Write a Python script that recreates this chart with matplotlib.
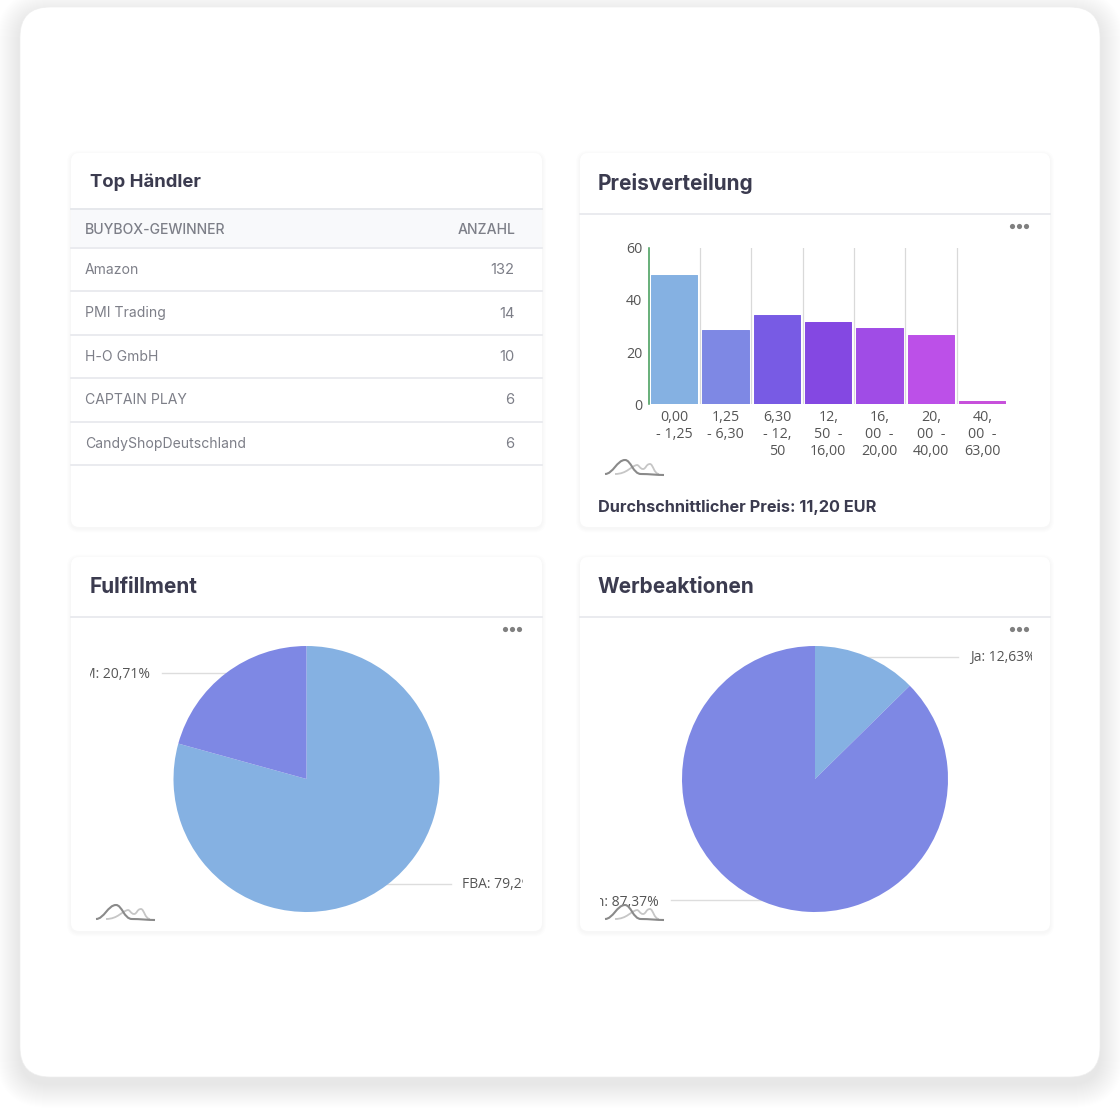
import matplotlib
matplotlib.use("Agg")
import matplotlib.pyplot as plt
from matplotlib.patches import FancyBboxPatch, Rectangle
from matplotlib.path import Path
from matplotlib.patches import PathPatch

W, H = 1120, 1112

# table data
table_head = ["BUYBOX-GEWINNER", "ANZAHL"]
sellers = ["Amazon", "PMI Trading", "H-O GmbH", "CAPTAIN PLAY", "CandyShopDeutschland"]
seller_counts = [132, 14, 10, 6, 6]

# price histogram
price_labels = ["0,00\n- 1,25", "1,25\n- 6,30", "6,30\n- 12,\n50", "12,\n50  -\n16,00",
                "16,\n00  -\n20,00", "20,\n00  -\n40,00", "40,\n00  -\n63,00"]
price_values = [49.6, 28.5, 34.4, 31.5, 29.4, 26.5, 1.1]
price_colors = ["#85b1e2", "#7e88e4", "#785be4", "#8448e2", "#a04ce6", "#bc50e8", "#c750db"]

# pies
fulfillment_values = [79.29, 20.71]
promo_values = [12.63, 87.37]
pie_colors = ["#85b1e2", "#7e88e4"]

TITLE = "#3b3b4f"
GREY = "#7d7f88"
LINE = "#e6e8ec"
LABEL = "#555555"

fig = plt.figure(figsize=(W / 100, H / 100), dpi=100, facecolor="white")
bg = fig.add_axes([0, 0, 1, 1])
bg.set_xlim(0, W)
bg.set_ylim(H, 0)
bg.axis("off")


def rounded(x0, y0, x1, y1, r, **kw):
    p = FancyBboxPatch((x0 + r, y0 + r), x1 - x0 - 2 * r, y1 - y0 - 2 * r,
                       boxstyle="round,pad=%f,rounding_size=%f" % (r, r), **kw)
    bg.add_patch(p)
    return p


def shadow(x0, y0, x1, y1, r, spread, dy, alpha, z):
    for i in range(spread, 0, -1):
        rounded(x0 - i, y0 - i + dy, x1 + i, y1 + i + dy, r + i,
                fc="black", ec="none", alpha=alpha, zorder=z)


def logo(x, y):
    # little sketch mark in the bottom corner of the charts
    light = [(10, 14), (22, 14), (26, 6), (32, 5), (34, 5), (35, 9), (38, 9),
             (41, 9), (41, 4), (45, 4), (48, 4), (49, 14), (54, 14)]
    dark = [(0, 14), (8, 14), (12, 0), (20, 0), (26, 0), (28, 14), (36, 14),
            (44, 14), (52, 15), (59, 15)]
    for pts, col, lw in [(light, "#c6c6c6", 1.3), (dark, "#8a8a8a", 1.5)]:
        pts = [(x + a, y + b) for a, b in pts]
        codes = [Path.MOVETO] + [Path.CURVE4] * (len(pts) - 1)
        bg.add_patch(PathPatch(Path(pts, codes), fc="none", ec=col, lw=lw, zorder=6))


def card(x0, y0, x1, y1, title, title_y, rule_y, tx, size):
    shadow(x0, y0, x1, y1, 8, 4, 1.5, 0.009, 2)
    rounded(x0, y0, x1, y1, 8, fc="white", ec="none", zorder=3)
    bg.text(tx, title_y, title, fontsize=size, fontweight="bold", family="Inter",
            color=TITLE, va="center", ha="left", zorder=5)
    bg.plot([x0, x1], [rule_y, rule_y], color=LINE, lw=1.2, zorder=4)


def dots(x, y):
    bg.scatter([x - 7, x, x + 7], [y, y, y], s=14, color="#808080", linewidths=0, zorder=6)


def clipped_label(x, y, s, ha, clip):
    t = bg.text(x, y, s, fontsize=10, family="Open Sans", color=LABEL, ha=ha, va="center", zorder=6)
    t.set_clip_path(Rectangle((clip[0], 0), clip[1] - clip[0], H, transform=bg.transData))
    t.set_clip_on(True)


def inset(left, top, right, bottom):
    return fig.add_axes([left / W, 1 - bottom / H, (right - left) / W, (bottom - top) / H])


def pie(cx, cy, r, values):
    ax = inset(cx - r, cy - r, cx + r, cy + r)
    ax.pie(values, colors=pie_colors, startangle=90, counterclock=False, radius=1)
    ax.set_xlim(-1, 1)
    ax.set_ylim(-1, 1)
    ax.patch.set_visible(False)
    return ax


# outer panel
shadow(20, 7, 1100, 1077, 30, 24, 7, 0.003, 0)
rounded(20, 7, 1100, 1077, 30, fc="white", ec="#eeeeee", lw=0.5, zorder=1)

# top left: table
card(71, 153, 542, 527, "Top Händler", 182, 209, 90, 13.3)
bg.add_patch(Rectangle((71, 209), 471, 38, fc="#f8f9fb", ec="none", zorder=3.5))
bg.plot([71, 542], [209, 209], color=LINE, lw=1.2, zorder=4)
bg.text(85, 230, table_head[0], fontsize=10.1, fontweight="medium", family="Inter", color=GREY, va="center", zorder=5)
bg.text(515.5, 230, table_head[1], fontsize=10.1, fontweight="medium", family="Inter", color=GREY, va="center", ha="right", zorder=5)
bg.plot([71, 542], [247.5, 247.5], color=LINE, lw=1.2, zorder=4)
for i, (name, n) in enumerate(zip(sellers, seller_counts)):
    yc = 269 + i * 43.5
    bg.text(85, yc + 1, name, fontsize=10.1, family="Inter", color=GREY, va="center", zorder=5)
    bg.text(514.5, yc + 1, str(n), fontsize=10.6, family="Inter", color=GREY, va="center", ha="right", zorder=5)
    bg.plot([71, 542], [yc + 22, yc + 22], color=LINE, lw=1.2, zorder=4)

# top right: price bars
card(580, 153, 1050, 527, "Preisverteilung", 184, 214, 598, 15.0)
dots(1019, 226)
ax = inset(648.5, 248, 1008, 404)
ax.bar(range(len(price_values)), price_values, width=0.9, color=price_colors, edgecolor=price_colors,
       linewidth=0.7, joinstyle="round", zorder=3)
ax.set_xlim(-0.5, 6.5)
ax.set_ylim(0, 60)
ax.set_yticks([0, 20, 40, 60])
ax.set_xticks(range(len(price_labels)))
ax.set_xticklabels(price_labels, linespacing=1.15)
ax.tick_params(length=0, labelsize=10.3, labelcolor=LABEL, pad=4.5)
for lab in ax.get_xticklabels() + ax.get_yticklabels():
    lab.set_family("Open Sans")
for v in [0.5, 1.5, 2.5, 3.5, 4.5, 5.5]:
    ax.axvline(v, color="#d9d9d9", lw=0.9, zorder=1)
for s in ["top", "right", "bottom"]:
    ax.spines[s].set_visible(False)
ax.spines["left"].set_color("#3f9a55")
ax.spines["left"].set_linewidth(1.1)
ax.patch.set_visible(False)
logo(605, 460)
bg.text(598, 507, "Durchschnittlicher Preis: 11,20 EUR", fontsize=11.7, fontweight="bold",
        family="Inter", color=TITLE, va="center", zorder=5)

# bottom left: fulfillment
card(71, 557, 542, 931, "Fulfillment", 587, 617, 90, 15.0)
dots(512, 629)
bg.plot([162, 225], [673, 673], color="#dddddd", lw=1, zorder=5)
bg.plot([385, 451], [884, 884], color="#dddddd", lw=1, zorder=5)
pie(306.5, 779, 133, fulfillment_values)
clipped_label(150, 674, "FBM: 20,71%", "right", (90, 523))
clipped_label(462, 885, "FBA: 79,29%", "left", (90, 523))
logo(96, 905)

# bottom right: promotions
card(580, 557, 1050, 931, "Werbeaktionen", 587, 617, 598, 15.0)
dots(1019, 629)
bg.plot([860, 958], [657, 657], color="#dddddd", lw=1, zorder=5)
bg.plot([671, 770], [900, 900], color="#dddddd", lw=1, zorder=5)
pie(815, 779, 133, promo_values)
clipped_label(970, 658, "Ja: 12,63%", "left", (600, 1032))
clipped_label(659, 902, "Nein: 87,37%", "right", (600, 1032))
logo(605, 905)

fig.savefig("out.png", dpi=100)
